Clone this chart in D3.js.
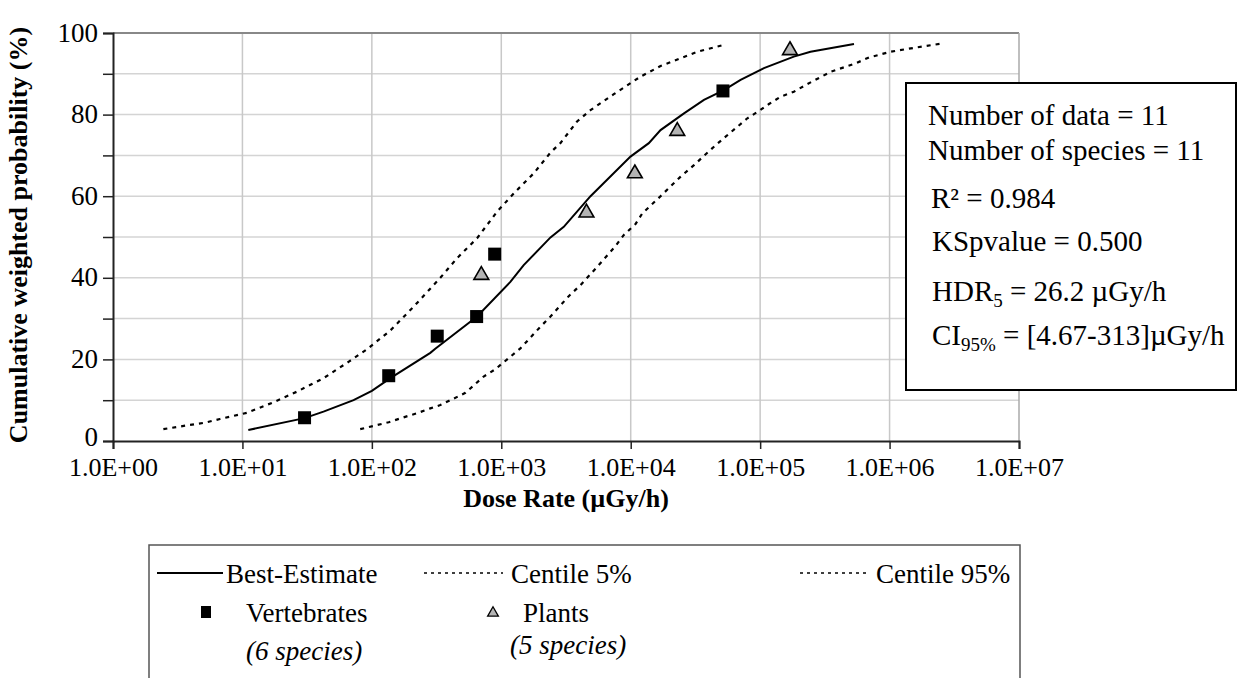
<!DOCTYPE html>
<html>
<head>
<meta charset="utf-8">
<script src="https://cdn.jsdelivr.net/npm/d3@7"></script>
<style>
  html, body { margin: 0; padding: 0; background: #fff; }
  svg { display: block; font-family: "Liberation Serif", "Times New Roman", serif; }
</style>
</head>
<body>
<svg id="chart" width="1253" height="678"></svg>
<script>
// ---------- data ----------
const xTickValues = [1, 10, 100, 1000, 1e4, 1e5, 1e6, 1e7];
const xTickLabels = ["1.0E+00", "1.0E+01", "1.0E+02", "1.0E+03", "1.0E+04", "1.0E+05", "1.0E+06", "1.0E+07"];
const yTickValues = [0, 20, 40, 60, 80, 100];

const vertDose = [30.2, 135, 320, 645, 889, 51600];
const vertProb = [5.7, 16.0, 25.7, 30.5, 45.8, 85.8];

const plantDose = [701, 4550, 10760, 22900, 170000];
const plantProb = [40.9, 56.2, 65.8, 76.2, 96.0];

const bestDose = [11.1, 30.2, 42.3, 72.2, 100, 139, 283, 309, 650, 1175, 1490, 2400, 3040, 4890, 9960, 13800, 17000, 25800, 36800, 52500, 70600, 107000, 182000, 245000, 531000];
const bestProb = [2.7, 5.6, 7.2, 10.0, 12.3, 15.4, 21.6, 22.6, 30.5, 39.0, 43.1, 49.9, 52.5, 60.0, 69.7, 73.0, 76.2, 80.3, 83.6, 86.0, 88.5, 91.4, 94.2, 95.4, 97.3];

const c5Dose = [2.45, 3.2, 5.15, 6.7, 10.8, 17.4, 26.4, 42.3, 66, 92, 139, 210, 338, 455, 650, 927, 1250, 1780, 2400, 2860, 3850, 4890, 7400, 11900, 17000, 32700, 52500];
const c5Prob = [2.9, 3.5, 4.5, 5.4, 6.9, 9.5, 12.1, 15.4, 19.4, 22.5, 27.1, 32.9, 40.0, 44.8, 49.7, 56.2, 60.7, 65.6, 70.7, 73.0, 78.3, 81.1, 85.0, 89.3, 91.9, 95.4, 97.1];

const c95Dose = [81.3, 103, 135, 176, 223, 283, 338, 528, 731, 900, 1110, 1405, 2005, 2400, 3320, 4090, 5510, 6500, 7640, 8850, 10900, 12300, 17000, 24300, 30800, 36800, 45300, 54100, 66600, 79700, 98000, 117000, 144000, 182000, 232000, 352000, 550000, 693000, 1020000, 1640000, 2640000];
const c95Prob = [2.9, 3.7, 4.6, 5.8, 6.8, 8.0, 8.8, 11.8, 15.8, 17.6, 20.0, 22.7, 28.0, 30.5, 35.5, 38.2, 42.7, 45.3, 47.8, 50.5, 53.2, 55.8, 60.0, 64.8, 67.6, 69.9, 72.5, 74.6, 77.0, 79.1, 80.9, 82.6, 84.4, 85.6, 87.5, 90.5, 92.6, 94.0, 95.4, 96.5, 97.5];

const legendLines = ["Best-Estimate", "Centile 5%", "Centile 95%"];
const infoLines = ["Number of data = 11", "Number of species = 11", "R² = 0.984", "KSpvalue = 0.500"];

// ---------- layout ----------
const svg = d3.select("#chart");
const L = 113, R = 1019, T = 33, B = 441;
const x = d3.scaleLog().domain([1, 1e7]).range([L, R]);
const y = d3.scaleLinear().domain([0, 100]).range([B, T]);

// grid
const grid = svg.append("g");
grid.selectAll("line.h").data(d3.range(10, 100, 10)).join("line")
  .attr("x1", L).attr("x2", R).attr("y1", d => y(d)).attr("y2", d => y(d))
  .attr("stroke", "#d4d4d4").attr("stroke-width", 1.5);
grid.selectAll("line.v").data(xTickValues.slice(1, -1)).join("line")
  .attr("x1", d => x(d)).attr("x2", d => x(d)).attr("y1", T).attr("y2", B)
  .attr("stroke", "#c8c8c8").attr("stroke-width", 1.5);
// top and right border
svg.append("line").attr("x1", L).attr("x2", R).attr("y1", T).attr("y2", T).attr("stroke", "#888").attr("stroke-width", 2);
svg.append("line").attr("x1", R).attr("x2", R).attr("y1", T).attr("y2", B).attr("stroke", "#aaa").attr("stroke-width", 1.5);

// axes
const yAxis = d3.axisLeft(y).tickValues(d3.range(0, 101, 10)).tickSize(10).tickFormat(d => yTickValues.includes(d) ? d : "");
const gy = svg.append("g").attr("transform", `translate(${L},0)`).call(yAxis);
gy.select(".domain").attr("stroke", "#222").attr("stroke-width", 2);
gy.selectAll(".tick line").attr("stroke", "#222").attr("stroke-width", 1.5);
gy.selectAll(".tick text").attr("font-family", "Liberation Serif").attr("font-size", 27).attr("fill", "#000")
  .attr("x", -15).attr("dy", d => d === 0 ? "0.18em" : "0.3em");

const xAxis = d3.axisBottom(x).tickValues(xTickValues).tickSize(8).tickFormat((d, i) => xTickLabels[i]);
const gx = svg.append("g").attr("transform", `translate(0,${B})`).call(xAxis);
gx.select(".domain").attr("stroke", "#222").attr("stroke-width", 2);
gx.selectAll(".tick line").attr("stroke", "#222").attr("stroke-width", 1.5);
gx.selectAll(".tick text").attr("font-family", "Liberation Serif").attr("font-size", 26).attr("fill", "#000").attr("y", 17);

// axis titles
svg.append("text").attr("transform", `translate(27,${(T + B) / 2 - 2}) rotate(-90)`)
  .attr("text-anchor", "middle").attr("font-weight", "bold").attr("font-size", 26)
  .text("Cumulative weighted probability (%)");
svg.append("text").attr("x", 566).attr("y", 507).attr("text-anchor", "middle")
  .attr("font-weight", "bold").attr("font-size", 26).text("Dose Rate (µGy/h)");

// curves
const line = d3.line().x(d => x(d[0])).y(d => y(d[1]));
const curve = (dose, prob, dash, w) => svg.append("path")
  .datum(dose.map((d, i) => [d, prob[i]]))
  .attr("d", line).attr("fill", "none").attr("stroke", "#000")
  .attr("stroke-width", w).attr("stroke-dasharray", dash);
curve(c5Dose, c5Prob, "4,5", 2.2);
curve(c95Dose, c95Prob, "4,5", 2.2);
curve(bestDose, bestProb, null, 2);

// markers
svg.append("g").selectAll("rect").data(vertDose.map((d, i) => [d, vertProb[i]])).join("rect")
  .attr("x", d => x(d[0]) - 6.5).attr("y", d => y(d[1]) - 6.5)
  .attr("width", 13).attr("height", 13).attr("fill", "#000");
const tri = d3.symbol().type(d3.symbolTriangle).size(95);
svg.append("g").selectAll("path").data(plantDose.map((d, i) => [d, plantProb[i]])).join("path")
  .attr("transform", d => `translate(${x(d[0])},${y(d[1]) + 1})`)
  .attr("d", tri).attr("fill", "#b4b4b4").attr("stroke", "#000").attr("stroke-width", 1.6);

// info box
const ib = svg.append("g");
ib.append("rect").attr("x", 906).attr("y", 83).attr("width", 330).attr("height", 307)
  .attr("fill", "#fff").attr("stroke", "#000").attr("stroke-width", 2);
const infoY = [125, 160, 208, 251];
const infoX = [928, 928, 931, 932];
infoLines.forEach((t, i) => ib.append("text").attr("x", infoX[i]).attr("y", infoY[i]).attr("font-size", 29).text(t));
const hdr = ib.append("text").attr("x", 932).attr("y", 301).attr("font-size", 29);
hdr.append("tspan").text("HDR");
hdr.append("tspan").attr("font-size", 19).attr("dy", 6).text("5");
hdr.append("tspan").attr("dy", -6).text(" = 26.2 µGy/h");
const ci = ib.append("text").attr("x", 932).attr("y", 345).attr("font-size", 29);
ci.append("tspan").text("CI");
ci.append("tspan").attr("font-size", 19).attr("dy", 6).text("95%");
ci.append("tspan").attr("dy", -6).text(" = [4.67-313]µGy/h");

// legend
const lg = svg.append("g");
lg.append("rect").attr("x", 149).attr("y", 545).attr("width", 871).attr("height", 160)
  .attr("fill", "#fff").attr("stroke", "#555").attr("stroke-width", 1.5);
lg.append("line").attr("x1", 157).attr("x2", 223).attr("y1", 573).attr("y2", 573).attr("stroke", "#000").attr("stroke-width", 2);
lg.append("line").attr("x1", 424).attr("x2", 503).attr("y1", 573).attr("y2", 573).attr("stroke", "#000").attr("stroke-width", 1.5).attr("stroke-dasharray", "3,4");
lg.append("line").attr("x1", 800).attr("x2", 870).attr("y1", 573).attr("y2", 573).attr("stroke", "#000").attr("stroke-width", 1.5).attr("stroke-dasharray", "3,4");
const lgX = [226, 511, 876];
legendLines.forEach((t, i) => lg.append("text").attr("x", lgX[i]).attr("y", 583).attr("font-size", 27).text(t));
lg.append("rect").attr("x", 201).attr("y", 606).attr("width", 10).attr("height", 12).attr("fill", "#000");
lg.append("path").attr("transform", "translate(493,613)").attr("d", d3.symbol().type(d3.symbolTriangle).size(50))
  .attr("fill", "#b4b4b4").attr("stroke", "#000").attr("stroke-width", 1.3);
lg.append("text").attr("x", 246).attr("y", 622).attr("font-size", 27).text("Vertebrates");
lg.append("text").attr("x", 246).attr("y", 660).attr("font-size", 27).attr("font-style", "italic").text("(6 species)");
lg.append("text").attr("x", 523).attr("y", 622).attr("font-size", 27).text("Plants");
lg.append("text").attr("x", 510).attr("y", 654).attr("font-size", 27).attr("font-style", "italic").text("(5 species)");
</script>
</body>
</html>
